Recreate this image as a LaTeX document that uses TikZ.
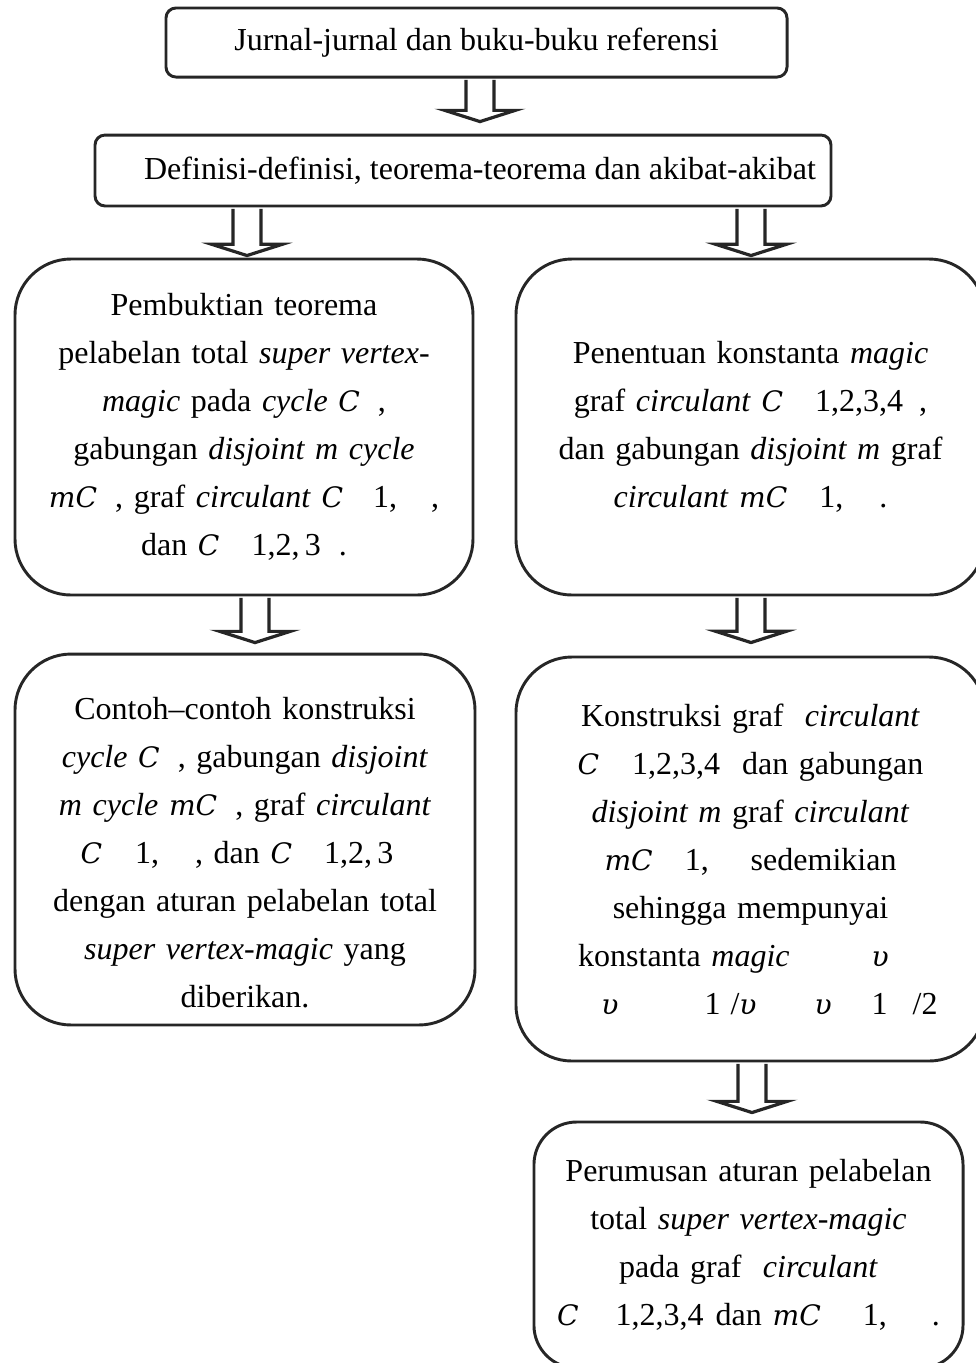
\documentclass[tikz,border=0pt]{standalone}
\usepackage{fontspec}
\setmainfont{Liberation Serif}
\newfontfamily\mathsymfont{DejaVu Serif}[Scale=0.88]
\usetikzlibrary{positioning,calc}

\newdimen\pxu \pxu=0.375pt
\newcommand{\vsym}[1]{{\mathsymfont\itshape #1}}
\newcommand{\vnum}[1]{{#1}}
\newcommand{\sk}[1]{\hspace*{#1\pxu}}

% panah blok berongga: x, dari, ke, celah
\newcommand{\blockarr}[4]{%
  \coordinate (ax) at (#1,0);
  \coordinate (atop) at ([yshift=-0.55pt]ax |- #2.south);
  \coordinate (atip) at ([yshift=#4\pxu]ax |- #3.north);
  \draw[hollowarr] ([xshift=-5.25pt]atop) -- ([xshift=-5.25pt,yshift=4.2pt]atip)
    -- ([xshift=-13.2pt,yshift=4.2pt]atip) -- (atip)
    -- ([xshift=13.2pt,yshift=4.2pt]atip) -- ([xshift=5.25pt,yshift=4.2pt]atip)
    -- ([xshift=5.25pt]atop);
}

\tikzset{
  hollowarr/.style={draw=black!85, line width=1.2pt, fill=white, line join=miter},
  topbox/.style={draw=black!85, line width=1.1pt, rounded corners=3.75pt,
    align=center, inner sep=0pt, font=\fontsize{12}{18}\selectfont},
  bigbox/.style={draw=black!85, line width=1.1pt, rounded corners=21pt,
    align=center, inner sep=0pt, font=\fontsize{12}{18}\selectfont},
}

\begin{document}
\begin{tikzpicture}[x=0.375pt, y=-0.375pt]
    \useasboundingbox (0,0) rectangle (976,1363);

    % kotak atas
    \node[topbox, minimum width=232.9pt, minimum height=25.9pt] (jurnal) at (476.5,42.5)
        {Jurnal-jurnal dan buku-buku referensi};
    \node[topbox, minimum width=276pt, minimum height=26.6pt] (definisi) at (463,170.5)
        {\sk{34}Definisi-definisi, teorema-teorema dan akibat-akibat};

    % kolom kiri
    \node[bigbox, text width=171.75pt, minimum height=126pt] (pembuktian) at (244,427)
        {Pembuktian teorema\\
         pelabelan total \textit{super vertex-}\\
         \textit{magic} pada \textit{cycle} \vsym{C}\sk{18},\\
         gabungan \textit{disjoint m cycle}\\
         \vsym{mC}\sk{18}, graf \textit{circulant} \vsym{C}\sk{30}\vnum{1,}\sk{34},\\
         dan \vsym{C}\sk{32}\vnum{1,2,\,3}\sk{18}.};
    \node[bigbox, text width=172.5pt, minimum height=139.1pt] (contoh) at (245,839.5)
        {\rule{0pt}{18pt}Contoh--contoh konstruksi\\
         \textit{cycle} \vsym{C}\sk{18}, gabungan \textit{disjoint}\\
         \textit{m cycle} \vsym{mC}\sk{18}, graf \textit{circulant}\\
         \vsym{C}\sk{33}\vnum{1,}\sk{36}, dan \vsym{C}\sk{32}\vnum{1,2,\,3}\sk{16}\mbox{}\\
         dengan aturan pelabelan total\\
         \textit{super vertex-magic} yang\\
         diberikan.};

    % kolom kanan
    \node[bigbox, text width=175.9pt, minimum height=126pt] (penentuan) at (750.5,427)
        {Penentuan konstanta \textit{magic}\\
         graf \textit{circulant} \vsym{C}\sk{32}\vnum{1,2,3,4}\sk{16},\\
         dan gabungan \textit{disjoint m} graf\\
         \textit{circulant} \vsym{mC}\sk{32}\vnum{1,}\sk{36}.};
    \node[bigbox, text width=175.9pt, minimum height=151.5pt] (konstruksi) at (750.5,859)
        {Konstruksi graf\ \ \textit{circulant}\\
         \vsym{C}\sk{33}\vnum{1,2,3,4}\sk{22}dan gabungan\\
         \textit{disjoint m} graf \textit{circulant}\\
         \vsym{mC}\sk{32}\vnum{1,}\sk{42}sedemikian\\
         sehingga mempunyai\\
         konstanta \textit{magic}\sk{82}\vsym{υ}\sk{34}\mbox{}\\
         \sk{38}\vsym{υ}\sk{86}\vnum{1}\sk{10}\vnum{/}\vsym{υ}\sk{58}\vsym{υ}\sk{40}\vnum{1}\sk{25}\vnum{/2}};
    \node[bigbox, rounded corners=16pt, text width=160.9pt, minimum height=92.25pt] (perumusan) at (748.5,1245)
        {Perumusan aturan pelabelan\\
         total \textit{super vertex-magic}\\
         pada graf\ \ \textit{circulant}\\
         \vsym{C}\sk{37}\vnum{1,2,3,4}\sk{12}dan \vsym{mC}\sk{42}\vnum{1,}\sk{45}.};

    % panah
    \blockarr{480}{jurnal}{definisi}{12}
    \blockarr{247}{definisi}{pembuktian}{2}
    \blockarr{751}{definisi}{penentuan}{2}
    \blockarr{255}{pembuktian}{contoh}{10}
    \blockarr{751}{penentuan}{konstruksi}{13}
    \blockarr{752}{konstruksi}{perumusan}{8}
\end{tikzpicture}
\end{document}
